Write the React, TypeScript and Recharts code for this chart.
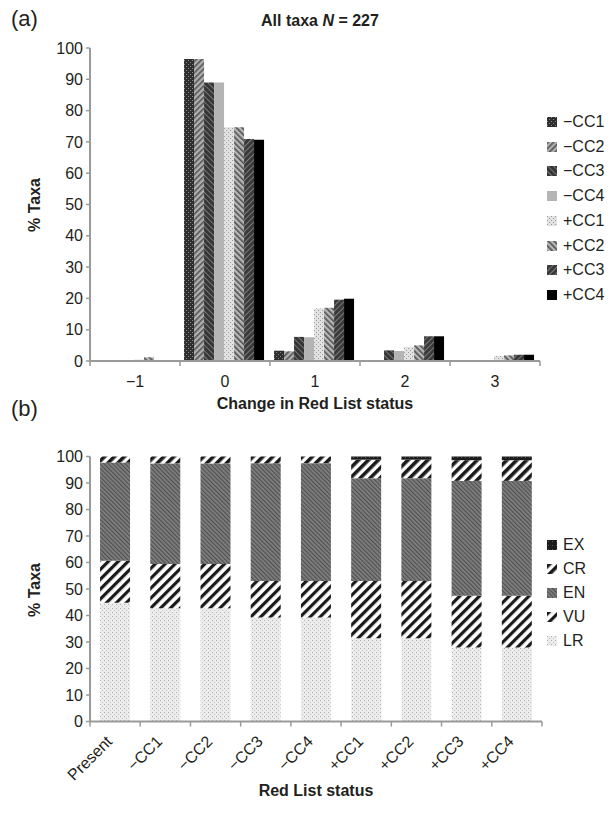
import React from 'react';
import { BarChart, Bar, XAxis, YAxis } from 'recharts';

// ---- panel (a): change in Red List status, % of taxa per scenario ----
const CHANGE_LEVELS = ['\u22121', '0', '1', '2', '3'];
const SCENARIOS = ['\u2212CC1', '\u2212CC2', '\u2212CC3', '\u2212CC4', '+CC1', '+CC2', '+CC3', '+CC4'];
const SCENARIO_KEYS = ['mcc1', 'mcc2', 'mcc3', 'mcc4', 'pcc1', 'pcc2', 'pcc3', 'pcc4'];
const MCC1 = [0, 96.5, 3.3, 0, 0.3];
const MCC2 = [0, 96.5, 3.1, 0, 0.3];
const MCC3 = [0, 89, 7.7, 3.4, 0.3];
const MCC4 = [0, 89, 7.6, 3.2, 0.2];
const PCC1 = [0.5, 74.7, 16.8, 4.5, 1.6];
const PCC2 = [1.2, 74.7, 17, 5, 1.8];
const PCC3 = [0.3, 70.9, 19.6, 7.9, 2];
const PCC4 = [0.3, 70.7, 19.9, 7.9, 2];
const SCENARIO_VALUES = [MCC1, MCC2, MCC3, MCC4, PCC1, PCC2, PCC3, PCC4];

// ---- panel (b): Red List category shares per scenario ----
const STATUS_COLS = ['Present', '\u2212CC1', '\u2212CC2', '\u2212CC3', '\u2212CC4', '+CC1', '+CC2', '+CC3', '+CC4'];
const LR = [44.8, 42.7, 42.7, 39.2, 39.2, 31.4, 31.4, 27.9, 27.9];
const VU = [15.9, 16.7, 16.7, 13.8, 13.8, 21.6, 21.6, 19.6, 19.6];
const EN = [37, 38, 38, 44.5, 44.5, 38.8, 38.8, 43.3, 43.3];
const CR = [2.3, 2.6, 2.6, 2.5, 2.5, 7, 7, 7.8, 7.8];
const EX = [0, 0, 0, 0, 0, 1.2, 1.2, 1.4, 1.4];
const CATEGORIES = ['LR', 'VU', 'EN', 'CR', 'EX']; // bottom to top
const CATEGORY_VALUES = [LR, VU, EN, CR, EX];

const Y_TICKS = [0, 10, 20, 30, 40, 50, 60, 70, 80, 90, 100];

const topData = CHANGE_LEVELS.map((level, i) => {
  const row: Record<string, any> = { level };
  SCENARIO_KEYS.forEach((k, j) => (row[k] = SCENARIO_VALUES[j][i]));
  return row;
});

const bottomData = STATUS_COLS.map((name, i) => {
  const row: Record<string, any> = { name };
  CATEGORIES.forEach((c, j) => (row[c] = CATEGORY_VALUES[j][i]));
  return row;
});

const FONT = '"Liberation Sans", Arial, Helvetica, sans-serif';
const INK = '#231f20';
const AXIS = '#9a9a9a';

// grey-scale fills of the original, as svg patterns
const Patterns = () => (
  <svg width={0} height={0} style={{ position: 'absolute' }}>
    <defs>
      <pattern id="mcc1" width={4} height={4} patternUnits="userSpaceOnUse">
        <rect width={4} height={4} fill="#2e2e2e" />
        <rect x={0} y={0} width={1} height={1} fill="#8a8a8a" />
        <rect x={2} y={2} width={1} height={1} fill="#8a8a8a" />
      </pattern>
      <pattern id="mcc2" width={4} height={4} patternUnits="userSpaceOnUse" patternTransform="rotate(45)">
        <rect width={4} height={4} fill="#b0b0b0" />
        <rect width={1.6} height={4} fill="#555" />
      </pattern>
      <pattern id="mcc3" width={4} height={4} patternUnits="userSpaceOnUse" patternTransform="rotate(-45)">
        <rect width={4} height={4} fill="#353535" />
        <rect width={1} height={4} fill="#777" />
      </pattern>
      <pattern id="mcc4" width={4} height={4} patternUnits="userSpaceOnUse">
        <rect width={4} height={4} fill="#b4b4b4" />
      </pattern>
      <pattern id="pcc1" width={4} height={4} patternUnits="userSpaceOnUse">
        <rect width={4} height={4} fill="#e2e2e2" />
        <rect x={0} y={0} width={1} height={1} fill="#9a9a9a" />
        <rect x={2} y={2} width={1} height={1} fill="#9a9a9a" />
      </pattern>
      <pattern id="pcc2" width={4} height={4} patternUnits="userSpaceOnUse" patternTransform="rotate(-45)">
        <rect width={4} height={4} fill="#b8b8b8" />
        <rect width={1.6} height={4} fill="#505050" />
      </pattern>
      <pattern id="pcc3" width={4} height={4} patternUnits="userSpaceOnUse" patternTransform="rotate(45)">
        <rect width={4} height={4} fill="#3a3a3a" />
        <rect width={1} height={4} fill="#7a7a7a" />
      </pattern>
      <pattern id="pcc4" width={4} height={4} patternUnits="userSpaceOnUse">
        <rect width={4} height={4} fill="#000" />
      </pattern>

      <pattern id="EX" width={4} height={4} patternUnits="userSpaceOnUse">
        <rect width={4} height={4} fill="#1c1c1c" />
        <rect x={1} y={1} width={1} height={1} fill="#555" />
      </pattern>
      <pattern id="CR" width={7} height={7} patternUnits="userSpaceOnUse" patternTransform="rotate(45)">
        <rect width={7} height={7} fill="#fff" />
        <rect width={3.6} height={7} fill="#1a1a1a" />
      </pattern>
      <pattern id="EN" width={3} height={3} patternUnits="userSpaceOnUse" patternTransform="rotate(-45)">
        <rect width={3} height={3} fill="#808080" />
        <rect width={1.2} height={3} fill="#505050" />
      </pattern>
      <pattern id="VU" width={7} height={7} patternUnits="userSpaceOnUse" patternTransform="rotate(45)">
        <rect width={7} height={7} fill="#fff" />
        <rect width={3.2} height={7} fill="#1a1a1a" />
      </pattern>
      <pattern id="LR" width={4} height={4} patternUnits="userSpaceOnUse">
        <rect width={4} height={4} fill="#ececec" />
        <rect x={0} y={0} width={1} height={1} fill="#b0b0b0" />
        <rect x={2} y={2} width={1} height={1} fill="#c4c4c4" />
      </pattern>
    </defs>
  </svg>
);

// ticks sit on category boundaries, labels in the middle
const TopTick = (props: any) => {
  const { x, y, payload, index, visibleTicksCount } = props;
  const half = payload.offset;
  return (
    <g>
      <line x1={x - half} x2={x - half} y1={y} y2={y + 5} stroke={AXIS} strokeWidth={1.5} />
      {index === visibleTicksCount - 1 && (
        <line x1={x + half} x2={x + half} y1={y} y2={y + 5} stroke={AXIS} strokeWidth={1.5} />
      )}
      <text x={x} y={y + 26} textAnchor="middle" fontSize={16} fill={INK} fontFamily={FONT}>
        {payload.value}
      </text>
    </g>
  );
};

const BottomTick = (props: any) => {
  const { x, y, payload, index, visibleTicksCount } = props;
  const half = payload.offset;
  const ax = x - 2;
  const ay = y + 21;
  return (
    <g>
      <line x1={x - half} x2={x - half} y1={y} y2={y + 5} stroke={AXIS} strokeWidth={1.5} />
      {index === visibleTicksCount - 1 && (
        <line x1={x + half} x2={x + half} y1={y} y2={y + 5} stroke={AXIS} strokeWidth={1.5} />
      )}
      <text
        x={ax}
        y={ay}
        textAnchor="end"
        fontSize={16}
        fill={INK}
        fontFamily={FONT}
        transform={`rotate(-45 ${ax} ${ay})`}
      >
        {payload.value}
      </text>
    </g>
  );
};

const abs = (style: React.CSSProperties): React.CSSProperties => ({ position: 'absolute', whiteSpace: 'nowrap', ...style });

const LegendBox = ({ items, keys, top, step }: { items: string[]; keys: string[]; top: number; step: number }) => (
  <div style={abs({ left: 547, top, fontSize: 16, color: INK })}>
    {items.map((label, i) => (
      <div key={label} style={abs({ left: 0, top: i * step, height: 20, display: 'flex', alignItems: 'center' })}>
        <svg width={10} height={10} style={{ marginRight: 6 }}>
          <rect width={10} height={10} fill={`url(#${keys[i]})`} />
        </svg>
        <span>{label}</span>
      </div>
    ))}
  </div>
);

const yAxisProps = {
  domain: [0, 100] as [number, number],
  ticks: Y_TICKS,
  interval: 0 as const,
  width: 90,
  tickSize: 4,
  tickMargin: 3,
  axisLine: { stroke: AXIS, strokeWidth: 2 },
  tickLine: { stroke: AXIS, strokeWidth: 1.5 },
  tick: { fill: INK, fontSize: 16, fontFamily: FONT },
};

export default function App() {
  return (
    <div style={{ position: 'absolute', left: 0, top: 0, width: 612, height: 817, background: '#fff', fontFamily: FONT, color: INK, overflow: 'hidden' }}>
      <Patterns />

      {/* panel (a) */}
      <div style={abs({ left: 11, top: 6, fontSize: 22 })}>(a)</div>
      <div style={abs({ left: 90, width: 460, top: 12, textAlign: 'center', fontWeight: 'bold', fontSize: 16 })}>
        All taxa <i>N</i> = 227
      </div>
      <div style={abs({ left: 35, top: 205, fontWeight: 'bold', fontSize: 16, transform: 'translate(-50%, -50%) rotate(-90deg)' })}>% Taxa</div>
      <div style={abs({ left: 90, width: 450, top: 395, textAlign: 'center', fontWeight: 'bold', fontSize: 16 })}>
        Change in Red List status
      </div>
      <div style={abs({ left: 0, top: 0 })}>
        <BarChart width={612} height={400} data={topData} margin={{ top: 48, right: 72, bottom: 9, left: 0 }} barGap={0} barCategoryGap="4.5%">
          <XAxis
            dataKey="level"
            height={30}
            interval={0}
            tickSize={0}
            tickMargin={0}
            tickLine={false}
            axisLine={{ stroke: AXIS, strokeWidth: 2 }}
            tick={<TopTick />}
          />
          <YAxis {...yAxisProps} />
          {SCENARIO_KEYS.map((k) => (
            <Bar key={k} dataKey={k} fill={`url(#${k})`} isAnimationActive={false} />
          ))}
        </BarChart>
      </div>
      <LegendBox items={SCENARIOS} keys={SCENARIO_KEYS} top={112} step={24.7} />

      {/* panel (b) */}
      <div style={abs({ left: 11, top: 396, fontSize: 22 })}>(b)</div>
      <div style={abs({ left: 35, top: 590, fontWeight: 'bold', fontSize: 16, transform: 'translate(-50%, -50%) rotate(-90deg)' })}>% Taxa</div>
      <div style={abs({ left: 90, width: 452, top: 782, textAlign: 'center', fontWeight: 'bold', fontSize: 16 })}>
        Red List status
      </div>
      <div style={abs({ left: 0, top: 420 })}>
        <BarChart width={612} height={397} data={bottomData} margin={{ top: 36.5, right: 70, bottom: 15.5, left: 0 }} barCategoryGap="20%">
          <XAxis
            dataKey="name"
            height={80}
            interval={0}
            tickSize={0}
            tickMargin={0}
            tickLine={false}
            axisLine={{ stroke: AXIS, strokeWidth: 2 }}
            tick={<BottomTick />}
          />
          <YAxis {...yAxisProps} />
          {CATEGORIES.map((c) => (
            <Bar key={c} dataKey={c} stackId="s" fill={`url(#${c})`} isAnimationActive={false} />
          ))}
        </BarChart>
      </div>
      <LegendBox items={[...CATEGORIES].reverse()} keys={[...CATEGORIES].reverse()} top={535} step={24} />
    </div>
  );
}
